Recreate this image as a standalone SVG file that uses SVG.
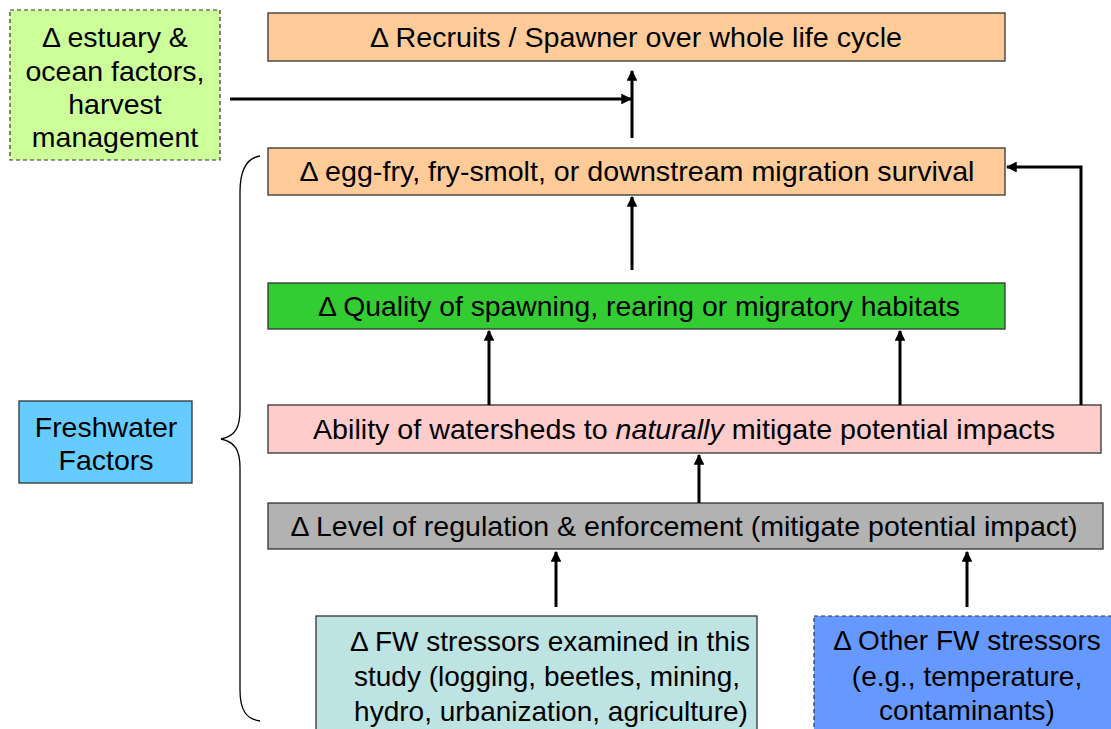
<svg xmlns="http://www.w3.org/2000/svg" width="1111" height="729" viewBox="0 0 1111 729">
<style>
.box{stroke:#333;stroke-width:1.3}
.dash{stroke:#333;stroke-width:1.2;stroke-dasharray:4 3}
text{font-family:"Liberation Sans",Arial,sans-serif;font-size:28px;fill:#000;text-anchor:middle}
.lbl{font-size:28.5px}
.con{fill:none;stroke:#000;stroke-width:3}
.brace{fill:none;stroke:#000;stroke-width:1.3}
</style>
<defs>
<marker id="ah" viewBox="0 0 10 10" refX="9" refY="5" markerWidth="3.6" markerHeight="3.6" orient="auto" markerUnits="strokeWidth">
<path d="M0,0 L10,5 L0,10 z" fill="#000"/>
</marker>
</defs>
<rect width="1111" height="729" fill="#fff"/>

<g id="estuary">
<rect class="dash" x="10" y="10" width="210" height="150" fill="#ccff99"/>
<text class="lbl" x="115" y="47">Δ estuary &amp;</text>
<text class="lbl" x="115" y="81">ocean factors,</text>
<text class="lbl" x="115" y="114">harvest</text>
<text class="lbl" x="115" y="147">management</text>
</g>

<g id="recruits">
<rect class="box" x="268" y="13" width="737" height="48" fill="#ffcc99"/>
<text x="636" y="47" textLength="532" lengthAdjust="spacingAndGlyphs">Δ Recruits / Spawner over whole life cycle</text>
</g>

<g id="survival">
<rect class="box" x="268" y="148" width="737" height="47" fill="#ffcc99"/>
<text x="637" y="181" textLength="675" lengthAdjust="spacingAndGlyphs">Δ egg-fry, fry-smolt, or downstream migration survival</text>
</g>

<g id="quality">
<rect class="box" x="268" y="283" width="737" height="46" fill="#33cc33"/>
<text x="639" y="316" textLength="642" lengthAdjust="spacingAndGlyphs">Δ Quality of spawning, rearing or migratory habitats</text>
</g>

<g id="ability">
<rect class="box" x="268" y="405" width="833" height="48" fill="#ffcccc"/>
<text x="684" y="439" textLength="742" lengthAdjust="spacingAndGlyphs">Ability of watersheds to <tspan font-style="italic">naturally</tspan> mitigate potential impacts</text>
</g>

<g id="regulation">
<rect class="box" x="268" y="503" width="835" height="46" fill="#b2b2b2"/>
<text x="684" y="536" textLength="787" lengthAdjust="spacingAndGlyphs">Δ Level of regulation &amp; enforcement (mitigate potential impact)</text>
</g>

<g id="fw-stressors">
<rect class="box" x="316" y="616" width="441" height="120" fill="#bde3e3"/>
<text x="550" y="651">Δ FW stressors examined in this</text>
<text x="547" y="686">study (logging, beetles, mining,</text>
<text x="551" y="721">hydro, urbanization, agriculture)</text>
</g>

<g id="other-stressors">
<rect class="dash" x="814" y="616" width="310" height="120" fill="#6699ff"/>
<text x="967" y="650">Δ Other FW stressors</text>
<text x="967" y="686">(e.g., temperature,</text>
<text x="967" y="720">contaminants)</text>
</g>

<g id="freshwater">
<rect class="box" x="19" y="401" width="173" height="82" fill="#66ccff"/>
<text class="lbl" x="106" y="437">Freshwater</text>
<text class="lbl" x="106" y="470">Factors</text>
</g>

<g id="brace-group">
<path class="brace" d="M260,156 C247,158 240,170 240,192 L240,410 C240,428 235,436 221,439 C235,442 240,450 240,468 L240,690 C240,710 246,719 260,721"/>
</g>

<g id="connectors">
<path class="con" d="M230,99 L631,99" marker-end="url(#ah)"/>
<path class="con" d="M632,138 L632,71" marker-end="url(#ah)"/>
<path class="con" d="M632,270 L632,197" marker-end="url(#ah)"/>
<path class="con" d="M489,405 L489,331" marker-end="url(#ah)"/>
<path class="con" d="M900,405 L900,331" marker-end="url(#ah)"/>
<path class="con" d="M1081,405 L1081,167 L1007,167" marker-end="url(#ah)"/>
<path class="con" d="M699,503 L699,455" marker-end="url(#ah)"/>
<path class="con" d="M556,607 L556,552" marker-end="url(#ah)"/>
<path class="con" d="M967,607 L967,552" marker-end="url(#ah)"/>
</g>
</svg>
